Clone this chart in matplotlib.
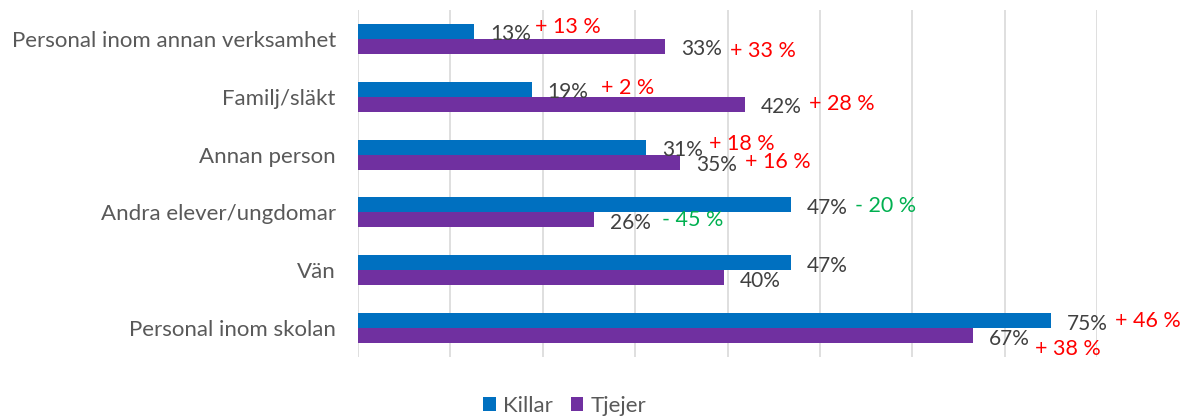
import matplotlib
matplotlib.use("Agg")
import matplotlib.pyplot as plt
import numpy as np

plt.rcParams["font.family"] = ["Lato", "DejaVu Sans"]

categories = [
    "Personal inom annan verksamhet",
    "Familj/släkt",
    "Annan person",
    "Andra elever/ungdomar",
    "Vän",
    "Personal inom skolan",
]
killar = [12.6, 18.8, 31.2, 46.9, 46.9, 75.0]
tjejer = [33.2, 41.9, 34.9, 25.6, 39.6, 66.6]

# change vs. earlier survey, shown next to the value labels
killar_change = ["+ 13 %", "+ 2 %", "+ 18 %", "- 20 %", "", "+ 46 %"]
tjejer_change = ["+ 33 %", "+ 28 %", "+ 16 %", "- 45 %", "", "+ 38 %"]

# hand placed like in the original (x in percent, dy in pixels downwards)
killar_change_x = [19.2, 26.3, 38.0, 53.8, 0, 82.0]
killar_change_dy = [-4.5, -1, -3, 1, 0, 0]
tjejer_change_x = [40.3, 48.8, 41.9, 32.9, 0, 73.3]
tjejer_change_dy = [4.5, 0, 0, 0, 0, 13]

BLUE = "#0070C0"
PURPLE = "#7030A0"
RED = "#FF0000"
GREEN = "#00B050"

fig = plt.figure(figsize=(11.81, 4.19), dpi=100)
ax = fig.add_axes([358 / 1181, 1 - 357 / 419, (1097 - 358) / 1181, (357 - 10) / 419])

y = np.arange(len(categories))
h = 0.26
ax.barh(y - h / 2, killar, h, color=BLUE, label="Killar", zorder=3)
ax.barh(y + h / 2, tjejer, h, color=PURPLE, label="Tjejer", zorder=3)

ax.set_xlim(0, 80)
ax.set_ylim(len(categories) - 0.5, -0.5)
ax.set_xticks(np.arange(0, 81, 10))
ax.xaxis.grid(True, color="#D9D9D9", linewidth=1.2, zorder=0)
ax.tick_params(axis="x", length=0, labelbottom=False)
ax.tick_params(axis="y", length=0, pad=16)
ax.set_yticks(y, categories, fontsize=16, color="#595959")
for s in ax.spines.values():
    s.set_visible(False)

px = 72 / fig.dpi
for i in range(len(categories)):
    for vals, off in ((killar, -h / 2), (tjejer, h / 2)):
        ax.annotate(f"{vals[i]:.0f}%", (vals[i], y[i] + off), xytext=(16 * px, -3 * px),
                    textcoords="offset points", va="center", ha="left",
                    fontsize=15, color="#404040", zorder=4)
    for txt, xs, dys, off in ((killar_change, killar_change_x, killar_change_dy, -h / 2),
                              (tjejer_change, tjejer_change_x, tjejer_change_dy, h / 2)):
        if not txt[i]:
            continue
        col = GREEN if txt[i].startswith("-") else RED
        ax.annotate(txt[i], (xs[i], y[i] + off), xytext=(0, -dys[i] * px),
                    textcoords="offset points", va="center", ha="left",
                    fontsize=15.5, color=col, annotation_clip=False, zorder=4)

ax.legend(loc="center", bbox_to_anchor=(565 / 1181, 1 - 406 / 419),
          bbox_transform=fig.transFigure, ncol=2, frameon=False,
          fontsize=16, handlelength=0.55, handleheight=0.55, handletextpad=0.35,
          columnspacing=0.8, labelcolor="#595959", borderpad=0.1)

fig.savefig("out.png", dpi=100)
